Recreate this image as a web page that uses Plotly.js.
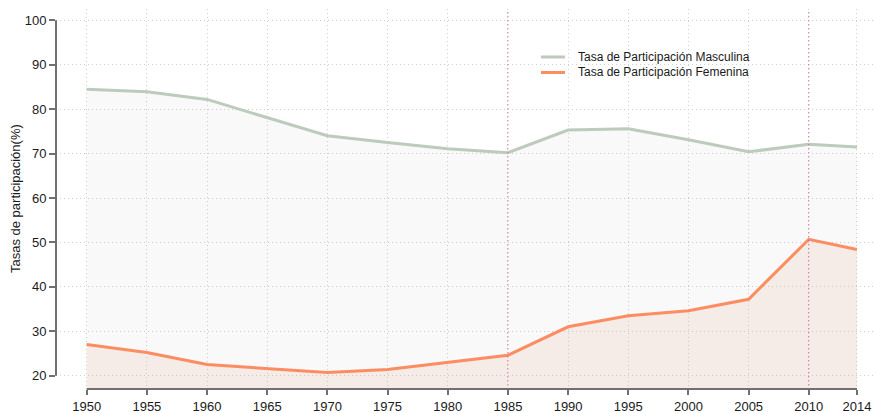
<!DOCTYPE html>
<html>
<head>
<meta charset="utf-8">
<script src="https://cdn.plot.ly/plotly-3.0.1.min.js"></script>
<style>html,body{margin:0;padding:0;background:#fff;}#chart{width:875px;height:413px;}</style>
</head>
<body>
<div id="chart"></div>
<script>
const years = [1950, 1955, 1960, 1965, 1970, 1975, 1980, 1985, 1990, 1995, 2000, 2005, 2010, 2014];
const masculina = [84.5, 83.9, 82.2, 78.1, 74.0, 72.5, 71.1, 70.2, 75.3, 75.6, 73.1, 70.4, 72.1, 71.5];
const femenina = [27.0, 25.2, 22.5, 21.6, 20.7, 21.4, 23.0, 24.6, 31.0, 33.5, 34.6, 37.2, 50.7, 48.4];
const xTicks = [1950, 1955, 1960, 1965, 1970, 1975, 1980, 1985, 1990, 1995, 2000, 2005, 2010, 2014];
const yTicks = [20, 30, 40, 50, 60, 70, 80, 90, 100];
const markYears = [1985, 2010];
const seriesNames = ['Tasa de Participación Masculina', 'Tasa de Participación Femenina'];
const yTitle = 'Tasas de participación(%)';

const colM = '#bccbbc';
const colF = '#fc8d62';
const font = 'Liberation Sans, Arial, sans-serif';

const traces = [
  {x: years, y: masculina, type: 'scatter', mode: 'none', fill: 'tozeroy',
   fillcolor: 'rgba(0,0,0,0.022)', showlegend: false, hoverinfo: 'skip'},
  {x: years, y: femenina, type: 'scatter', mode: 'none', fill: 'tozeroy',
   fillcolor: 'rgba(229,184,159,0.2)', showlegend: false, hoverinfo: 'skip'},
  {x: years, y: masculina, type: 'scatter', mode: 'lines', name: seriesNames[0], showlegend: false,
   line: {color: colM, width: 3}},
  {x: years, y: femenina, type: 'scatter', mode: 'lines', name: seriesNames[1], showlegend: false,
   line: {color: colF, width: 3}}
];

const shapes = markYears.map(yr => ({
  type: 'line', xref: 'x', yref: 'paper', x0: yr, x1: yr, y0: 0, y1: 1,
  line: {color: '#e8559a', width: 1, dash: '1px,3px'}, layer: 'above'
}));
// R-style detached axis lines
shapes.push({type: 'line', xref: 'x', yref: 'paper', x0: xTicks[0], x1: xTicks[xTicks.length-1], y0: 0, y1: 0,
  line: {color: '#707070', width: 2}, layer: 'above'});
shapes.push({type: 'line', xref: 'paper', yref: 'y', x0: 0, x1: 0, y0: yTicks[0], y1: yTicks[yTicks.length-1],
  line: {color: '#707070', width: 2}, layer: 'above'});

// custom legend
const legColors = [colM, colF];
const legY = [0.8737, 0.8329];
const annotations = [{text: yTitle, xref: 'paper', yref: 'paper', x: -0.05, y: 0.5, xanchor: 'center', yanchor: 'middle',
    textangle: -90, showarrow: false, font: {size: 13, color: '#1a1a1a'}}];
seriesNames.forEach((nm, i) => {
  shapes.push({type: 'line', xref: 'paper', yref: 'paper', x0: 0.5922, x1: 0.6215, y0: legY[i], y1: legY[i],
    line: {color: legColors[i], width: 3}});
  annotations.push({text: nm, xref: 'paper', yref: 'paper', x: 0.635, y: legY[i], xanchor: 'left', yanchor: 'middle',
    showarrow: false, font: {size: 12, color: '#1a1a1a'}});
});

const layout = {
  width: 875, height: 413,
  margin: {l: 56, r: 0, t: 9, b: 24},
  paper_bgcolor: '#fff', plot_bgcolor: '#fff',
  font: {family: font, size: 13, color: '#1a1a1a'},
  showlegend: false,
  xaxis: {range: [1947.45, 2015.5], tickvals: xTicks, ticktext: xTicks.map(String),
    showline: false, zeroline: false, ticks: 'outside', ticklen: 5, tickwidth: 2, tickcolor: '#707070',
    showgrid: true, gridcolor: '#cfcfcf', griddash: '1px,3px', gridwidth: 1,
    tickfont: {size: 13, color: '#1a1a1a'}},
  yaxis: {range: [17.0, 102.55], tickvals: yTicks, showline: false, zeroline: false,
    ticks: 'outside', ticklen: 6, tickwidth: 2, tickcolor: '#707070',
    showgrid: true, gridcolor: '#cfcfcf', griddash: '1px,3px', gridwidth: 1,
    tickfont: {size: 13, color: '#1a1a1a'}},
  shapes: shapes,
  annotations: annotations
};

Plotly.newPlot('chart', traces, layout, {displayModeBar: false, staticPlot: true});
</script>
</body>
</html>
